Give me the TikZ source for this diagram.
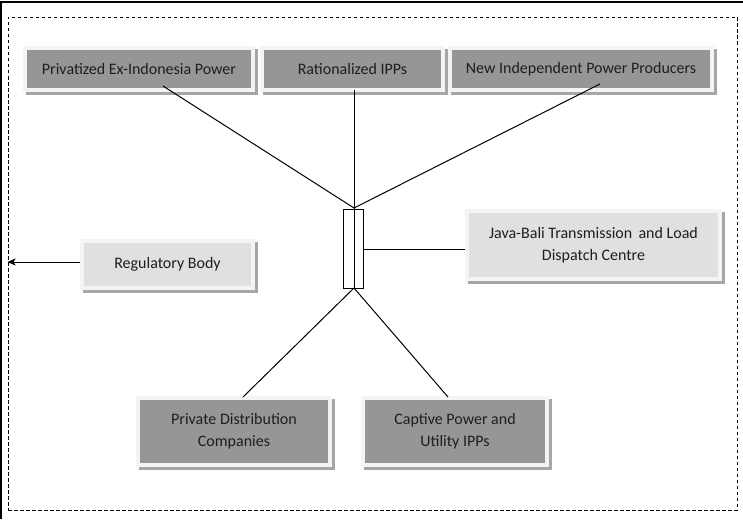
\documentclass[tikz,border=0pt]{standalone}
\usepackage{fontspec}
\setmainfont{Carlito}
\usetikzlibrary{arrows.meta,calc}
\definecolor{darkfill}{HTML}{969696}
\definecolor{lightfill}{HTML}{E0E0E0}
\definecolor{framecol}{HTML}{F4F4F4}
\definecolor{shadowcol}{HTML}{A6A6A6}
\definecolor{textcol}{HTML}{1E1E1E}
\tikzset{
  unitbox/.style={draw=framecol, line width=4pt, inner sep=0pt, align=center,
    text=textcol, font=\fontsize{16}{22}\selectfont,
    preaction={draw=shadowcol, fill=shadowcol, line width=4pt,
      transform canvas={shift={(2.5pt,-3pt)}}}},
  darkbox/.style={unitbox, fill=darkfill},
  lightbox/.style={unitbox, fill=lightfill},
  link/.style={draw=black, line width=1pt},
}
\begin{document}
\begin{tikzpicture}[x=1pt,y=-1pt]
\useasboundingbox (0,0) rectangle (743,519);
% outer solid border (top and left) and dashed enclosure
\draw[line width=1.6pt] (1,519) -- (1,2) -- (743,2);
\node[draw, dashed, dash pattern=on 3.5pt off 2.5pt, line width=0.9pt,
  minimum width=729pt, minimum height=493pt, inner sep=0pt] (frame) at (372.5,263.5) {};

% generators
\node[darkbox, minimum width=228pt, minimum height=42pt] (b1) at (139,69) {Privatized Ex-Indonesia Power};
\node[darkbox, minimum width=181pt, minimum height=42pt] (b2) at (352.5,69) {Rationalized IPPs};
\node[darkbox, minimum width=262pt, minimum height=42pt] (b3) at (581,69) {New Independent Power Producers};

% hub
\node[draw, line width=0.9pt, fill=white, minimum width=20pt, minimum height=79pt, inner sep=0pt] (hub) at (353,248.5) {};
\coordinate (top) at (354,208);
\coordinate (bot) at (354,288);

% other bodies
\node[lightbox, minimum width=253pt, minimum height=68pt] (java) at (593.5,245)
  {Java-Bali Transmission\, and Load\\Dispatch Centre};
\node[lightbox, minimum width=171pt, minimum height=47pt] (reg) at (167.5,264.5) {Regulatory Body};
\node[darkbox, minimum width=192pt, minimum height=67pt] (pdc) at (234,431.5) {Private Distribution\\Companies};
\node[darkbox, minimum width=184pt, minimum height=67pt] (cap) at (455,431.5) {Captive Power and\\Utility IPPs};

% connectors
\draw[link] ([xshift=24pt,yshift=6pt]b1.south) -- (top);
\draw[link] ([xshift=19pt,yshift=8pt]b3.south) -- (top);
\draw[link] ([xshift=1.5pt,yshift=2pt]b2.south) -- (bot);
\draw[link] (hub.east |- 0,249) -- (java.west |- 0,249);
\draw[link] (bot) -- ([xshift=9pt,yshift=-1pt]pdc.north);
\draw[link] (bot) -- ([xshift=-7pt,yshift=-1pt]cap.north);
\draw[link, -{Stealth[length=8pt,width=7pt,inset=2pt]}] (reg.west |- 0,262) -- (frame.west |- 0,262);
\end{tikzpicture}
\end{document}
